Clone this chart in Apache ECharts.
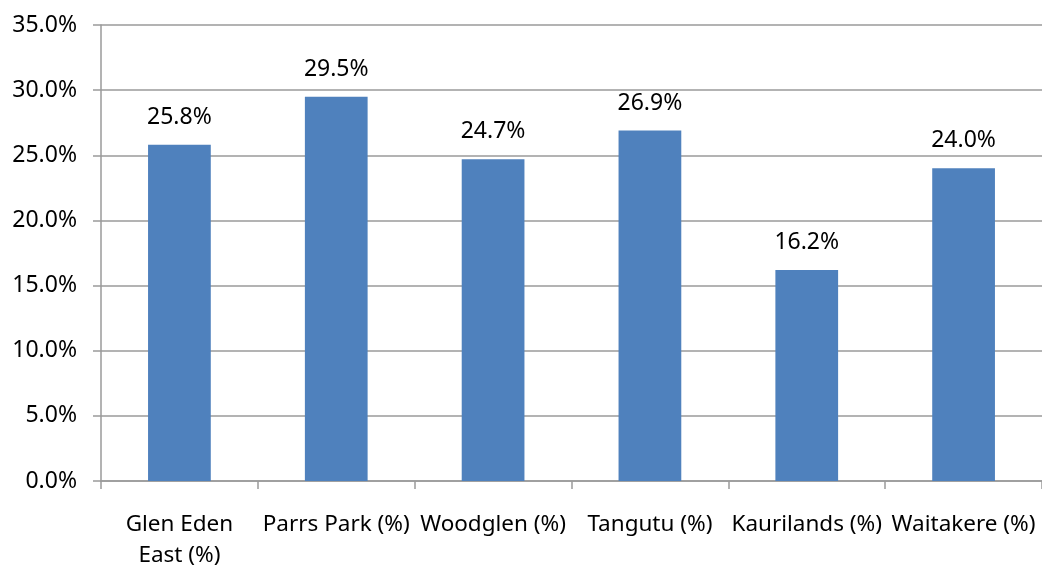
<!DOCTYPE html>
<html>
<head>
<meta charset="utf-8">
<script src="https://cdn.jsdelivr.net/npm/echarts@6/dist/echarts.min.js"></script>
<style>
  html, body { margin: 0; padding: 0; background: #fff; }
  #chart { width: 1042px; height: 567px; }
</style>
</head>
<body>
<div id="chart"></div>
<script>
// 数据
var categories = ['Glen Eden\nEast (%)', 'Parrs Park (%)', 'Woodglen (%)', 'Tangutu (%)', 'Kaurilands (%)', 'Waitakere (%)'];
var values = [25.8, 29.5, 24.7, 26.9, 16.2, 24.0];
var yTicks = { min: 0, max: 35, interval: 5 };

var myChart = echarts.init(document.getElementById('chart'));

var option = {
    animation: false,
    textStyle: { fontFamily: 'Noto Sans' },
    grid: { left: 101, right: 0, top: 25, bottom: 86, outerBoundsMode: 'none', containLabel: false },
    xAxis: {
        type: 'category',
        data: categories,
        axisLine: { lineStyle: { color: '#9a9a9a', width: 1.5 } },
        axisTick: { show: true, length: 8, lineStyle: { color: '#9a9a9a', width: 1.5 } },
        axisLabel: {
            interval: 0,
            color: '#000',
            fontSize: 22.5,
            margin: 28,
            lineHeight: 31
        }
    },
    yAxis: {
        type: 'value',
        min: yTicks.min,
        max: yTicks.max,
        interval: yTicks.interval,
        axisLine: { show: true, lineStyle: { color: '#9a9a9a', width: 1.5 } },
        axisTick: { show: true, length: 8, lineStyle: { color: '#9a9a9a', width: 1.5 } },
        splitLine: { lineStyle: { color: '#9a9a9a', width: 1.5 } },
        axisLabel: {
            color: '#000',
            fontSize: 23,
            margin: 24,
            formatter: function (v) { return v.toFixed(1) + '%'; }
        }
    },
    series: [{
        type: 'bar',
        data: values,
        barWidth: '40%',
        itemStyle: { color: '#4F81BD' },
        label: {
            show: true,
            position: 'top',
            distance: 16,
            color: '#000',
            fontSize: 23,
            formatter: function (p) { return p.value.toFixed(1) + '%'; }
        }
    }]
};

myChart.setOption(option);
</script>
</body>
</html>
